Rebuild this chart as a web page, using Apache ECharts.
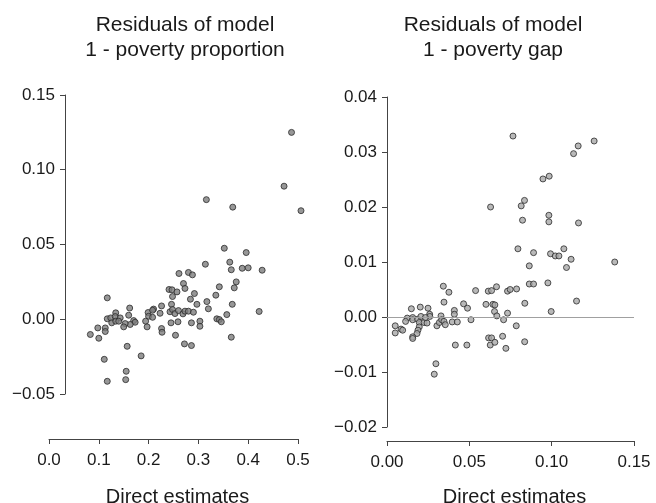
<!DOCTYPE html>
<html>
<head>
<meta charset="utf-8">
<script src="https://cdn.jsdelivr.net/npm/echarts@6/dist/echarts.min.js"></script>
<style>
  html, body { margin: 0; padding: 0; background: #fff; }
  #chart { width: 656px; height: 503px; }
</style>
</head>
<body>
<div id="chart"></div>
<script>
// residuals of model 1 - poverty proportion
const propX = [0.487, 0.472, 0.316, 0.369, 0.506, 0.352, 0.396, 0.314, 0.363, 0.366,
  0.388, 0.400, 0.428, 0.261, 0.280, 0.288, 0.270, 0.273, 0.376, 0.342,
  0.372, 0.241, 0.247, 0.257, 0.248, 0.292, 0.335, 0.117, 0.284, 0.317,
  0.297, 0.368, 0.226, 0.246, 0.162, 0.210, 0.320, 0.134, 0.117, 0.124,
  0.133, 0.143, 0.126, 0.134, 0.140, 0.160, 0.170, 0.173, 0.163, 0.153,
  0.150, 0.098, 0.113, 0.113, 0.083, 0.100, 0.199, 0.208, 0.200, 0.208,
  0.223, 0.194, 0.197, 0.226, 0.227, 0.245, 0.259, 0.254, 0.243, 0.248,
  0.253, 0.260, 0.269, 0.273, 0.280, 0.290, 0.286, 0.303, 0.303, 0.337,
  0.342, 0.346, 0.357, 0.422, 0.366, 0.272, 0.286, 0.157, 0.185, 0.111,
  0.155, 0.154, 0.117]
const propY = [0.125, 0.089, 0.080, 0.075, 0.0726, 0.0475, 0.0446, 0.0368, 0.0382, 0.0331,
  0.0341, 0.0344, 0.0328, 0.0306, 0.0313, 0.0297, 0.0239, 0.0206, 0.0250, 0.0217,
  0.0210, 0.0199, 0.0197, 0.0183, 0.0152, 0.0172, 0.0161, 0.0143, 0.0134, 0.0118,
  0.0100, 0.0100, 0.0089, 0.0100, 0.0075, 0.0068, 0.0070, 0.0043, 0.0003, 0.0009,
  0.0018, 0.0009, -0.0024, -0.0013, -0.0013, 0.0027, -0.0009, -0.0020, -0.0035, -0.0029,
  -0.0051, -0.0058, -0.0058, -0.0082, -0.0102, -0.0127, 0.0045, 0.0060, 0.0020, 0.0013,
  0.0040, -0.0013, -0.0051, -0.0062, -0.0087, -0.0024, -0.0017, -0.0107, 0.0050, 0.0065,
  0.0038, 0.0058, 0.0036, 0.0054, 0.0054, 0.0047, -0.0024, -0.0013, -0.0047, 0.0003,
  -0.0002, -0.0017, 0.0031, 0.0052, -0.0120, -0.0165, -0.0176, -0.0181, -0.0245, -0.0268,
  -0.0348, -0.0404, -0.0415]

// residuals of model 1 - poverty gap
const gapX = [0.0765, 0.1258, 0.1161, 0.1133, 0.0985, 0.0947, 0.0835, 0.0629, 0.0815, 0.0983,
  0.0823, 0.0983, 0.1163, 0.0795, 0.1074, 0.0890, 0.0993, 0.1022, 0.1044, 0.1118,
  0.1383, 0.0864, 0.1090, 0.0864, 0.0890, 0.0977, 0.0342, 0.0376, 0.0538, 0.0615,
  0.0635, 0.0665, 0.0732, 0.0748, 0.0787, 0.0346, 0.1151, 0.0837, 0.0465, 0.0489,
  0.0601, 0.0643, 0.0655, 0.0653, 0.0667, 0.0732, 0.0997, 0.0148, 0.0202, 0.0249,
  0.0259, 0.0409, 0.0409, 0.0328, 0.0260, 0.0050, 0.0050, 0.0085, 0.0095, 0.0123,
  0.0156, 0.0156, 0.0113, 0.0186, 0.0206, 0.0196, 0.0225, 0.0243, 0.0233, 0.0196,
  0.0188, 0.0182, 0.0156, 0.0156, 0.0303, 0.0318, 0.0332, 0.0346, 0.0354, 0.0396,
  0.0427, 0.0510, 0.0415, 0.0485, 0.0297, 0.0287, 0.0617, 0.0635, 0.0627, 0.0655,
  0.0702, 0.0722, 0.0708, 0.0785, 0.0836]
const gapY = [0.0329, 0.0320, 0.0311, 0.0297, 0.0256, 0.0251, 0.0212, 0.0200, 0.0202, 0.0185,
  0.0176, 0.0173, 0.0171, 0.0124, 0.0124, 0.0117, 0.0115, 0.0111, 0.0111, 0.0105,
  0.0100, 0.0093, 0.0090, 0.0060, 0.0060, 0.0062, 0.0056, 0.0045, 0.0048, 0.0047,
  0.0048, 0.0055, 0.0047, 0.0050, 0.0051, 0.0027, 0.0029, 0.0025, 0.0024, 0.0016,
  0.0023, 0.0023, 0.0022, 0.0010, 0.0002, 0.0007, 0.0010, 0.0015, 0.0018, 0.0016,
  0.0005, 0.0012, 0.0005, 0.0002, 0.0001, -0.0016, -0.0029, -0.0022, -0.0024, -0.0002,
  -0.0001, -0.0005, -0.0008, -0.0004, 0.0001, -0.0010, -0.0010, -0.0011, -0.0001, -0.0018,
  -0.0024, -0.0030, -0.0036, -0.0039, -0.0016, -0.0010, -0.0005, -0.0008, -0.0014, -0.0009,
  -0.0009, -0.0005, -0.0051, -0.0051, -0.0085, -0.0104, -0.0038, -0.0038, -0.0051, -0.0046,
  -0.0035, -0.0057, -0.0005, -0.0016, -0.0045]

// axis ticks
const propXTicks = [0.0, 0.1, 0.2, 0.3, 0.4, 0.5]
const propYTicks = [-0.05, 0.00, 0.05, 0.10, 0.15]
const gapXTicks = [0.00, 0.05, 0.10, 0.15]
const gapYTicks = [-0.02, -0.01, 0.00, 0.01, 0.02, 0.03, 0.04]

const FONT = '"Liberation Sans", Arial, Helvetica, sans-serif'
const fmt = (d) => (v) => (v < 0 ? '\u2212' : '') + Math.abs(v).toFixed(d)
const pairs = (xs, ys) => xs.map((x, i) => [x, ys[i]])

function xAxis(gridIndex, ticks, digits, offset, nameGap) {
  return {
    type: 'value',
    gridIndex,
    min: ticks[0],
    max: ticks[ticks.length - 1],
    interval: ticks[1] - ticks[0],
    offset,
    name: 'Direct estimates',
    nameLocation: 'middle',
    nameGap,
    nameTextStyle: { fontFamily: FONT, fontSize: 20, color: '#1a1a1a', padding: [0, 0, 0, 8] },
    axisLine: { show: true, onZero: false, lineStyle: { color: '#444', width: 1 } },
    axisTick: { show: true, length: 5, lineStyle: { color: '#444' } },
    axisLabel: { fontFamily: FONT, fontSize: 17, color: '#1a1a1a', margin: 13, formatter: fmt(digits) },
    splitLine: { show: false }
  }
}
function yAxis(gridIndex, ticks, digits, offset) {
  return {
    type: 'value',
    gridIndex,
    min: ticks[0],
    max: ticks[ticks.length - 1],
    interval: ticks[1] - ticks[0],
    offset,
    axisLine: { show: true, onZero: false, lineStyle: { color: '#444', width: 1 } },
    axisTick: { show: true, length: 5, lineStyle: { color: '#444' } },
    axisLabel: { fontFamily: FONT, fontSize: 17, color: '#1a1a1a', margin: 10, formatter: fmt(digits) },
    splitLine: { show: false }
  }
}

const chart = echarts.init(document.getElementById('chart'), null, { renderer: 'canvas' })
chart.setOption({
  animation: false,
  backgroundColor: '#fff',
  title: [
    {
      text: 'Residuals of model\n1 - poverty proportion',
      left: 180, top: 8, textAlign: 'center',
      textStyle: { fontFamily: FONT, fontSize: 21, fontWeight: 'normal', color: '#1a1a1a', lineHeight: 25 }
    },
    {
      text: 'Residuals of model\n1 - poverty gap',
      left: 488, top: 8, textAlign: 'center',
      textStyle: { fontFamily: FONT, fontSize: 21, fontWeight: 'normal', color: '#1a1a1a', lineHeight: 25 }
    }
  ],
  grid: [
    { left: 49, top: 95, width: 249, height: 299, outerBoundsMode: 'none' },
    { left: 387, top: 97, width: 247, height: 330, outerBoundsMode: 'none' }
  ],
  xAxis: [
    xAxis(0, propXTicks, 1, 45, 48),
    xAxis(1, gapXTicks, 2, 14, 46)
  ],
  yAxis: [
    yAxis(0, propYTicks, 2, -16),
    yAxis(1, gapYTicks, 2, 0)
  ],
  series: [
    {
      type: 'scatter',
      xAxisIndex: 0,
      yAxisIndex: 0,
      clip: false,
      symbolSize: 6,
      itemStyle: { color: '#7d7d7d', borderColor: '#2b2b2b', borderWidth: 1 },
      data: pairs(propX, propY)
    },
    {
      type: 'scatter',
      xAxisIndex: 1,
      yAxisIndex: 1,
      clip: false,
      symbolSize: 6,
      itemStyle: { color: '#a8a8a8', borderColor: '#2b2b2b', borderWidth: 1 },
      data: pairs(gapX, gapY),
      markLine: {
        silent: true,
        symbol: 'none',
        label: { show: false },
        lineStyle: { color: '#a0a0a0', width: 1, type: 'solid' },
        data: [{ yAxis: 0 }]
      }
    }
  ]
})
</script>
</body>
</html>
